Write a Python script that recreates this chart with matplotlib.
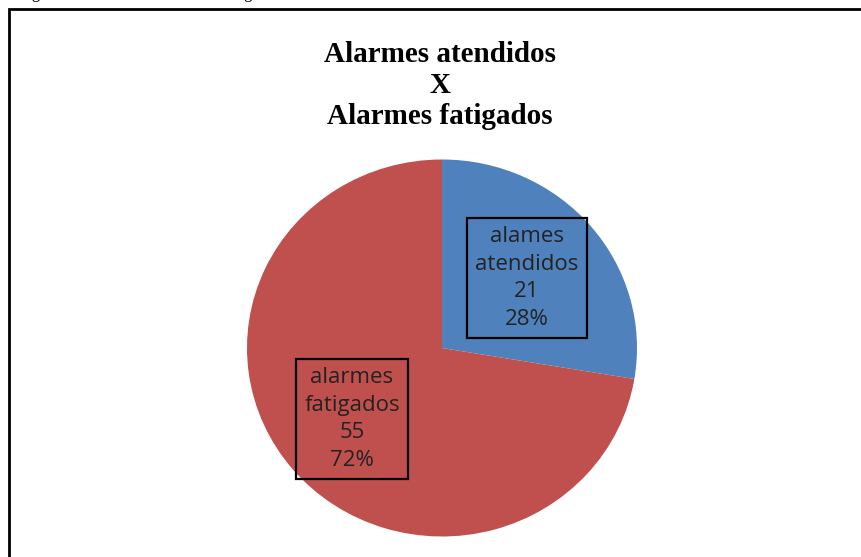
import matplotlib.pyplot as plt
from matplotlib.patches import Rectangle

# data
labels = ['alames\natendidos', 'alarmes\nfatigados']
values = [21, 55]
colors = ['#4F81BD', '#C0504D']
title_lines = ['Alarmes atendidos', 'X', 'Alarmes fatigados']
caption = 'Figura 3: Alarmes atendidos e fatigados'

W, H = 862, 557
fig = plt.figure(figsize=(W / 100, H / 100), dpi=100)

# pie geometry in pixels (slightly squashed like the original)
cx, cy = 442, 348
rx, ry = 195, 188.5

ax = fig.add_axes([0, 0, 1, 1])
ax.pie(values, colors=colors, startangle=90, counterclock=False,
       radius=1, center=(0, 0), frame=False,
       wedgeprops=dict(linewidth=0))
ax.set_xlim(-cx / rx, (W - cx) / rx)
ax.set_ylim(-(H - cy) / ry, cy / ry)
ax.set_aspect('auto')
ax.axis('off')

# outer chart frame (top and left visible, rest cropped)
fig.add_artist(Rectangle((9 / W, -0.1), 1.2, (H - 9) / H + 0.1,
                         transform=fig.transFigure, fill=False,
                         edgecolor='black', linewidth=2))

# caption cut off at the top of the image
fig.text(18 / W, 1 + 2 / H, caption, ha='left', va='baseline',
         fontsize=12, family='Liberation Serif', color='black')

# title
for i, line in enumerate(title_lines):
    fig.text(440 / W, 1 - (54 + i * 31.5) / H, line, ha='center', va='center',
             fontsize=21, family='Liberation Serif', weight='bold')

# data labels
total = sum(values)
pos = [(527, 278), (352, 419)]
for lab, v, (px, py) in zip(labels, values, pos):
    txt = f'{lab}\n{v}\n{round(100 * v / total)}%'
    fig.text(px / W, 1 - py / H, txt, ha='center', va='center',
             fontsize=16, family='Open Sans', color='#222222',
             linespacing=1.42,
             bbox=dict(boxstyle='square,pad=0.36', facecolor='none',
                       edgecolor='black', linewidth=1.6))

fig.savefig('out.png', dpi=100)
